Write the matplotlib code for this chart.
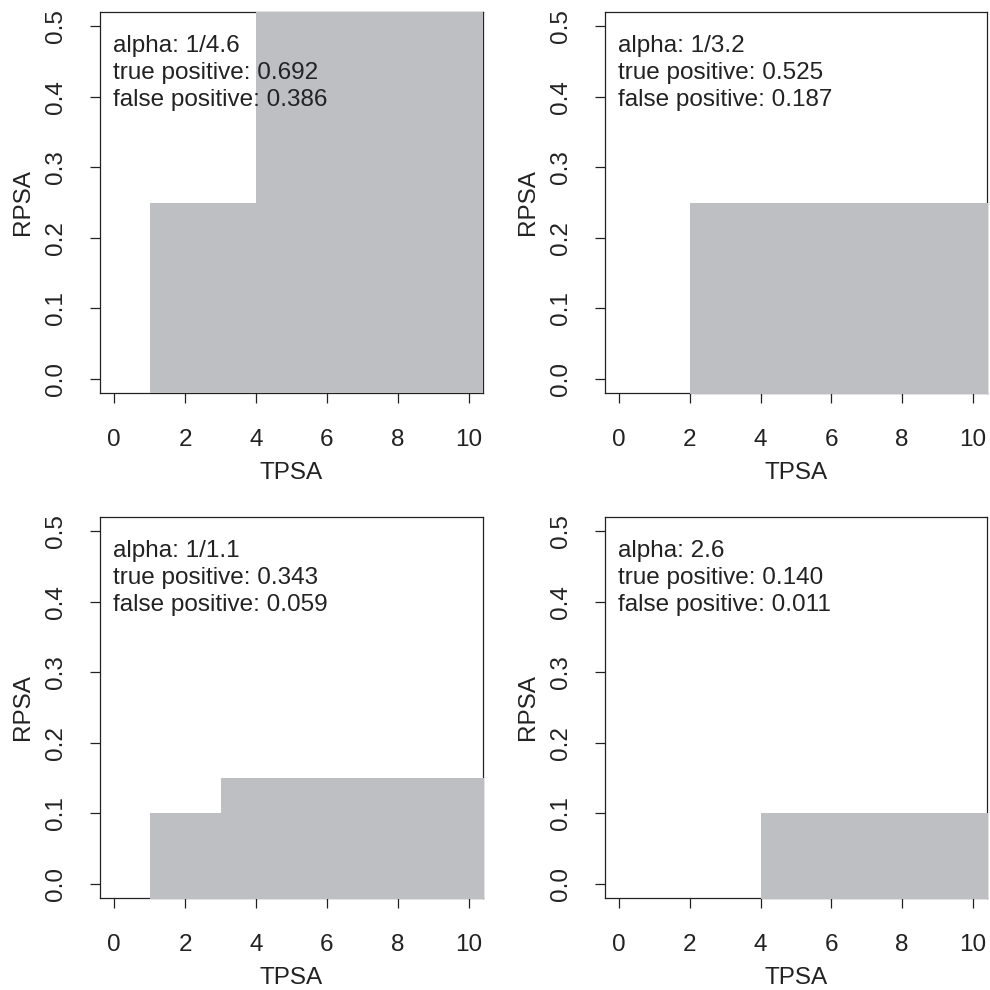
import matplotlib
matplotlib.use("Agg")
import matplotlib.pyplot as plt

plt.rcParams['font.family'] = ['Liberation Sans', 'DejaVu Sans']

# data
alphas = ["1/4.6", "1/3.2", "1/1.1", "2.6"]
true_pos = ["0.692", "0.525", "0.343", "0.140"]
false_pos = ["0.386", "0.187", "0.059", "0.011"]
# step edges (TPSA) and RPSA heights for each panel
edges = [[1, 4], [2], [1, 3], [4]]
heights = [[0.25, 1.0], [0.25], [0.10, 0.15], [0.10]]
xticks = [0, 2, 4, 6, 8, 10]
yticks = [0.0, 0.1, 0.2, 0.3, 0.4, 0.5]

fill_col = "#BEBFC3"
ink = "#222222"
fs = 17.5

fig = plt.figure(figsize=(9.9, 9.9), dpi=100)
W = H = 990.0
boxes = [(100, 12, 483, 393), (605, 12, 987, 393),
         (100, 517, 483, 898), (605, 517, 987, 898)]

for i, (l, t, r, b) in enumerate(boxes):
    ax = fig.add_axes([l / W, 1 - b / H, (r - l) / W, (b - t) / H])
    ax.set_xlim(-0.4, 10.4)
    ax.set_ylim(-0.02, 0.52)
    xs = list(edges[i]) + [20]
    ys = list(heights[i]) + [heights[i][-1]]
    ax.fill_between(xs, -1, ys, step='post', color=fill_col, lw=0,
                    zorder=3, clip_on=True)
    for s in ax.spines.values():
        s.set_color(ink)
        s.set_linewidth(0.9)
    ax.set_xticks(xticks)
    ax.set_xticklabels([str(v) for v in xticks])
    ax.set_yticks(yticks)
    ax.set_yticklabels([f"{v:.1f}" for v in yticks], rotation=90, va='center')
    ax.tick_params(direction='out', length=7, width=0.9, color=ink,
                   labelsize=fs, labelcolor=ink)
    ax.tick_params(axis='x', pad=19)
    ax.tick_params(axis='y', pad=17)
    ax.set_xlabel("TPSA", fontsize=fs, color=ink, labelpad=8)
    ax.set_ylabel("RPSA", fontsize=fs, color=ink, labelpad=7.5)
    lines = [f"alpha: {alphas[i]}", f"true positive: {true_pos[i]}",
             f"false positive: {false_pos[i]}"]
    for k, txt in enumerate(lines):
        ax.text(0.035, 0.895 - 0.071 * k, txt, transform=ax.transAxes,
                fontsize=fs, color=ink, va='baseline', ha='left', zorder=5)

fig.savefig("out.png", dpi=100)
